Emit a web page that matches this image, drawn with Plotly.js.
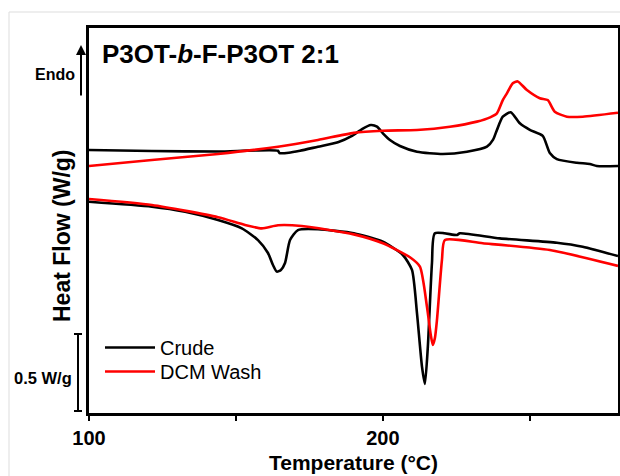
<!DOCTYPE html>
<html>
<head>
<meta charset="utf-8">
<script src="https://cdn.plot.ly/plotly-3.0.1.min.js"></script>
<style>
  html, body { margin: 0; padding: 0; background: #fff; }
  #chart { width: 620px; height: 476px; }
</style>
</head>
<body>
<div id="chart"></div>
<script>
// ---- Data ----
// Heat flow values in W/g (curves offset as in the figure; endo up)
const crudeHeatT  = [100, 121.4, 143.9, 164.3, 164.8, 168, 171.8, 177.9, 184.7, 189.5, 192.9, 195.9, 198, 200, 202.4, 205.8, 211.6, 220.4, 228.6, 235.4, 237.5, 238.8, 240.8, 243.5, 246.6, 250, 254.4, 256.8, 259.2, 266, 270.4, 272.8, 280];
const crudeHeatHF = [1.708, 1.701, 1.698, 1.703, 1.688, 1.690, 1.703, 1.729, 1.758, 1.799, 1.844, 1.870, 1.859, 1.816, 1.773, 1.734, 1.697, 1.682, 1.697, 1.729, 1.775, 1.838, 1.924, 1.953, 1.881, 1.838, 1.799, 1.688, 1.649, 1.625, 1.617, 1.604, 1.604];

const crudeCoolT  = [100, 121.4, 132.7, 143.9, 152, 157.5, 160.9, 162.6, 163.9, 165.3, 166.7, 168.4, 171.1, 177.9, 190.1, 200, 206.8, 209.9, 211.6, 213.3, 214.3, 215.3, 216.7, 217.7, 225.2, 226.2, 239.8, 259.2, 268, 280];
const crudeCoolHF = [1.372, 1.340, 1.307, 1.253, 1.199, 1.123, 1.039, 0.961, 0.918, 0.929, 0.974, 1.123, 1.188, 1.193, 1.167, 1.112, 1.026, 0.929, 0.649, 0.301, 0.188, 0.431, 0.974, 1.167, 1.156, 1.167, 1.134, 1.106, 1.080, 1.019];

const dcmHeatT  = [100, 121.4, 143.9, 164.3, 177.9, 190.1, 200, 211.6, 222.8, 232, 236.5, 238.8, 240.8, 242.2, 244.2, 245.9, 249, 253.4, 256.1, 258.5, 262.6, 268, 280];
const dcmHeatHF = [1.604, 1.643, 1.682, 1.729, 1.773, 1.819, 1.833, 1.838, 1.859, 1.892, 1.920, 1.946, 2.032, 2.076, 2.141, 2.153, 2.097, 2.044, 2.032, 1.956, 1.924, 1.924, 1.950];

const dcmCoolT  = [100, 121.4, 143.9, 153.1, 158.8, 164.3, 172.4, 190.1, 200, 209.2, 212.6, 215, 216.3, 217, 217.7, 218.4, 220.1, 221.1, 234, 256.8, 280];
const dcmCoolHF = [1.390, 1.351, 1.271, 1.221, 1.199, 1.219, 1.214, 1.160, 1.102, 1.011, 0.950, 0.690, 0.506, 0.442, 0.487, 0.604, 0.994, 1.123, 1.102, 1.058, 0.955];

const seriesNames = ["Crude", "DCM Wash"];
const xTickVals = [100, 150, 200, 250];
const xTickText = ["100", "", "200", ""];
const scaleBarWg = 0.5;

// ---- Styles ----
const FONT = "Liberation Sans, Arial, Helvetica, sans-serif";
const BLACK = "#000000";
const RED = "#ff0000";
const LW = 2.6;

function mkTrace(x, y, name, color, showlegend, legendId) {
  return {
    x: x, y: y, name: name, type: "scatter", mode: "lines",
    legendgroup: name, showlegend: showlegend, legend: legendId,
    line: { color: color, width: LW, shape: "spline", smoothing: 0.6 },
    hoverinfo: "skip"
  };
}

const traces = [
  mkTrace(crudeHeatT, crudeHeatHF, seriesNames[0], BLACK, true, "legend"),
  mkTrace(dcmHeatT, dcmHeatHF, seriesNames[1], RED, true, "legend2"),
  mkTrace(crudeCoolT, crudeCoolHF, seriesNames[0], BLACK, false, "legend"),
  mkTrace(dcmCoolT, dcmCoolHF, seriesNames[1], RED, false, "legend2")
];

// plot area: left 89, right 618, top 28, bottom 413 (px)
const L = 89, R = 618, T = 28, B = 413;
const px2x = p => (p - L) / (R - L);
const px2y = p => (B - p) / (B - T);

const barBottom = 0.013;

function mkLegend(topPx) {
  return {
    x: px2x(100), xanchor: "left",
    y: px2y(topPx), yanchor: "top",
    bgcolor: "rgba(0,0,0,0)", borderwidth: 0,
    font: { family: FONT, size: 20, color: BLACK },
    itemwidth: 50, tracegroupgap: 0
  };
}

const layout = {
  width: 620, height: 476,
  margin: { l: L, r: 620 - R, t: T, b: 476 - B, pad: 0 },
  paper_bgcolor: "#ffffff", plot_bgcolor: "#ffffff",
  font: { family: FONT, color: BLACK },
  showlegend: true,
  title: {
    text: "P3OT-<i>b</i>-F-P3OT 2:1",
    font: { family: FONT, size: 26, weight: "bold", color: BLACK },
    xref: "container", yref: "container",
    x: 102 / 620, xanchor: "left",
    y: 1 - 54 / 476, yanchor: "middle"
  },
  xaxis: {
    range: [100, 280], autorange: false,
    showgrid: false, zeroline: false,
    showline: true, mirror: true, linecolor: BLACK, linewidth: 2.6,
    ticks: "outside", ticklen: 5, tickwidth: 2, tickcolor: BLACK,
    tickvals: xTickVals, ticktext: xTickText,
    tickfont: { family: FONT, size: 20, weight: "bold", color: BLACK },
    title: { text: "Temperature (°C)", standoff: 8,
             font: { family: FONT, size: 21, weight: "bold", color: BLACK } }
  },
  yaxis: {
    range: [0, 2.5], autorange: false,
    showgrid: false, zeroline: false,
    showline: true, mirror: true, linecolor: BLACK, linewidth: 2.6,
    ticks: "", showticklabels: false,
    title: { text: "" }
  },
  legend: mkLegend(328),
  legend2: mkLegend(352),
  shapes: [
    // light outer frame of the figure panel
    { type: "line", xref: "paper", yref: "paper", x0: px2x(9), x1: px2x(640), y0: px2y(12), y1: px2y(12),
      line: { color: "#dddddd", width: 1 } },
    { type: "line", xref: "paper", yref: "paper", x0: px2x(9), x1: px2x(9), y0: px2y(12), y1: px2y(490),
      line: { color: "#dddddd", width: 1 } },
    // 0.5 W/g scale bar (in data units of the y axis)
    { type: "line", xref: "paper", yref: "y", x0: px2x(78), x1: px2x(78), y0: barBottom, y1: barBottom + scaleBarWg,
      line: { color: BLACK, width: 2 } },
    { type: "line", xref: "paper", yref: "y", x0: px2x(74), x1: px2x(82), y0: barBottom, y1: barBottom,
      line: { color: BLACK, width: 2 } },
    { type: "line", xref: "paper", yref: "y", x0: px2x(74), x1: px2x(82), y0: barBottom + scaleBarWg, y1: barBottom + scaleBarWg,
      line: { color: BLACK, width: 2 } }
  ],
  annotations: [
    { text: "Heat Flow (W/g)", xref: "paper", yref: "paper", x: px2x(62), y: px2y(236),
      xanchor: "center", yanchor: "middle", textangle: -90, showarrow: false,
      font: { family: FONT, size: 23, weight: "bold", color: BLACK } },
    { text: "Endo", xref: "paper", yref: "paper", x: px2x(77), y: px2y(74.5),
      xanchor: "right", yanchor: "middle", showarrow: false,
      font: { family: FONT, size: 16, weight: "bold", color: BLACK } },
    { text: "", xref: "paper", yref: "paper", x: px2x(81), y: px2y(45),
      showarrow: true, ax: 0, ay: 52, arrowhead: 2, arrowsize: 1, arrowwidth: 2, arrowcolor: BLACK },
    { text: scaleBarWg + " W/g", xref: "paper", yref: "paper", x: px2x(74), y: px2y(378),
      xanchor: "right", yanchor: "middle", showarrow: false,
      font: { family: FONT, size: 16.5, weight: "bold", color: BLACK } }
  ]
};

Plotly.newPlot("chart", traces, layout, { staticPlot: true, displayModeBar: false });
</script>
</body>
</html>
